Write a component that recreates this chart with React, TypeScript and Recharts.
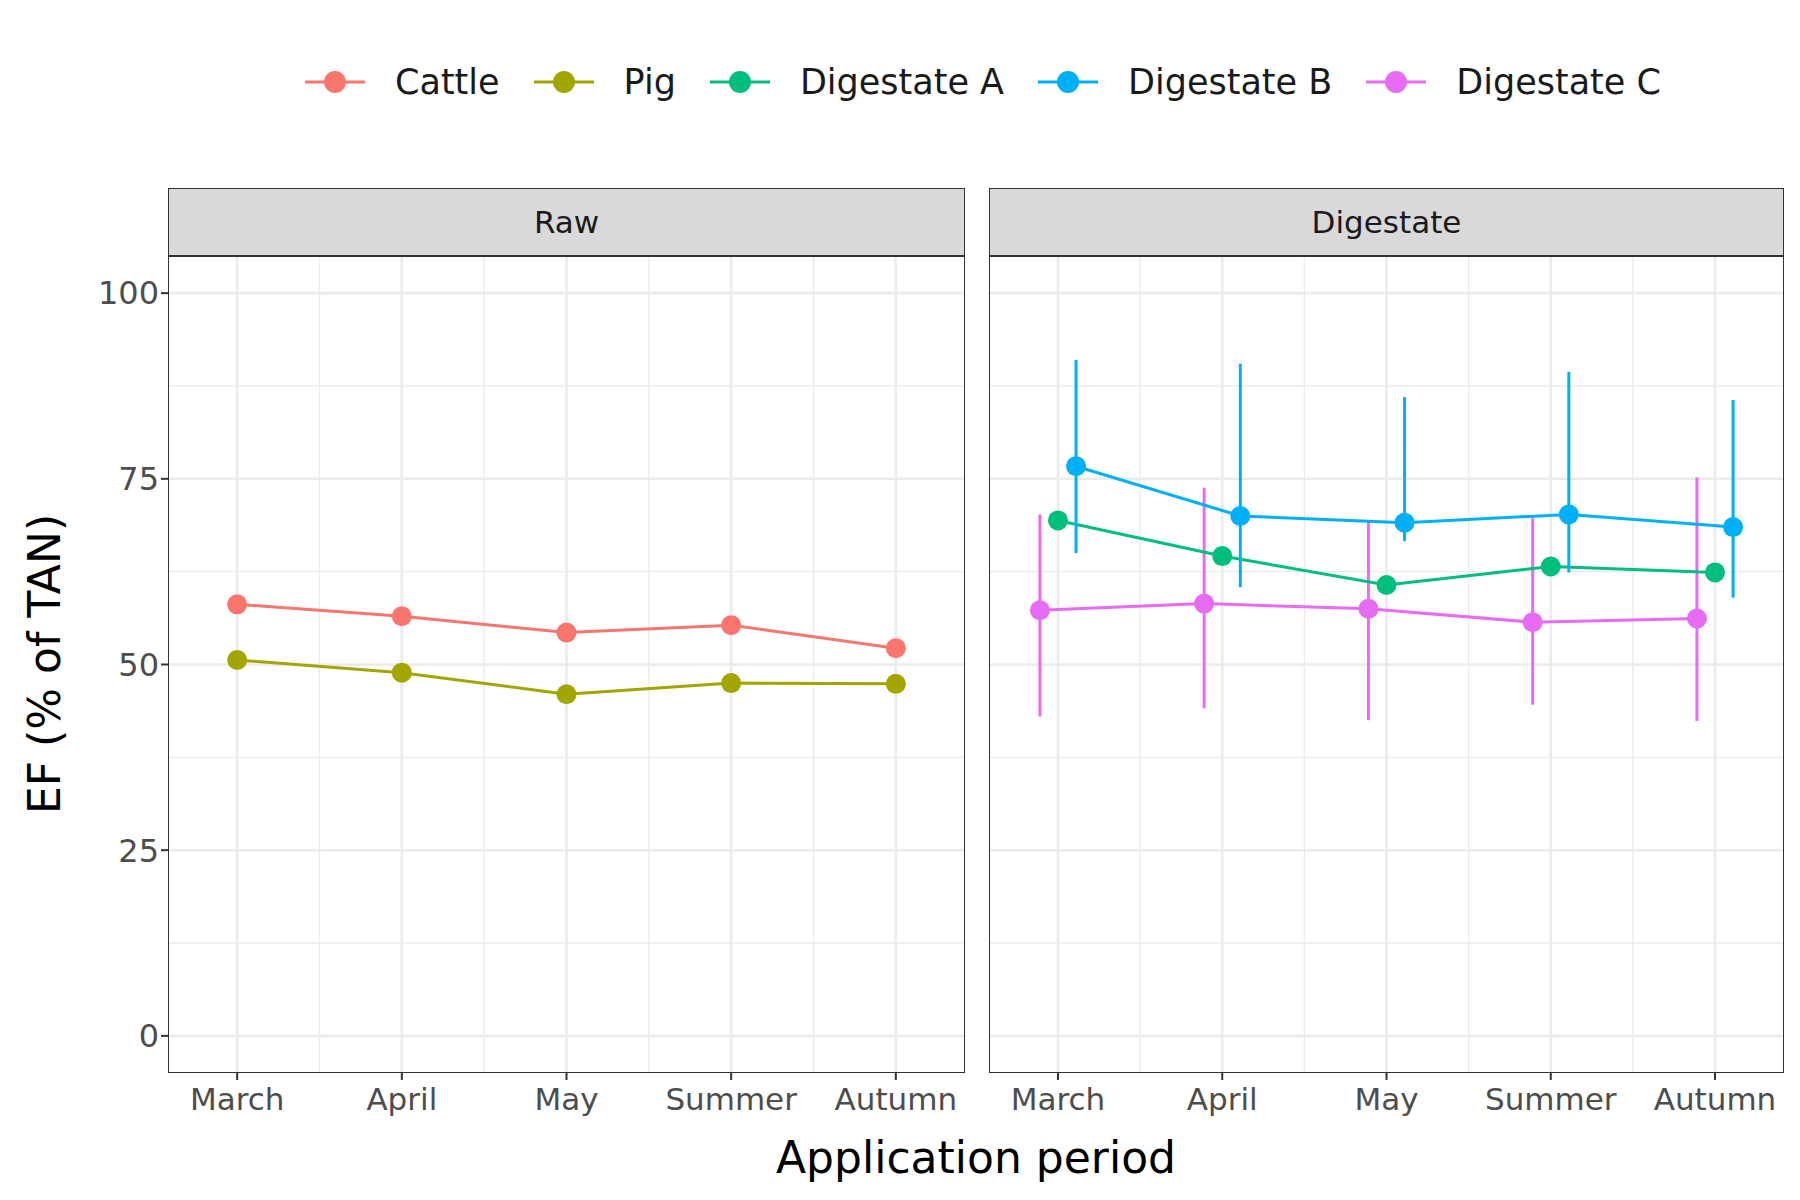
import React from "react";
import { LineChart, Line, XAxis, YAxis, CartesianGrid, ErrorBar } from "recharts";

const periods = ["March", "April", "May", "Summer", "Autumn"];
const cattle = [58.1, 56.5, 54.3, 55.3, 52.2];
const pig = [50.6, 48.9, 46.0, 47.5, 47.4];
const digA = [69.4, 64.6, 60.7, 63.2, 62.4];
const digB = [76.7, 70.0, 69.1, 70.2, 68.5];
const digBLow = [65.0, 60.4, 66.6, 62.4, 59.0];
const digBHigh = [91.0, 90.5, 86.0, 89.4, 85.6];
const digC = [57.3, 58.2, 57.5, 55.7, 56.2];
const digCLow = [43.0, 44.1, 42.5, 44.6, 42.4];
const digCHigh = [70.2, 73.8, 69.3, 69.7, 75.2];
const yTicks = [0, 25, 50, 75, 100];

const COL = { cattle: "#F8766D", pig: "#A3A500", a: "#00BF7D", b: "#00B0F6", c: "#E76BF3" };
const FONT = "'DejaVu Sans', sans-serif";

const mk = (vals: number[], shift: number, low?: number[], high?: number[]) =>
  vals.map((v, i) => ({
    x: i + 1 + shift,
    y: v,
    err: low && high ? [v - low[i], high[i] - v] : undefined,
  }));

const TOP = 256, BOTTOM = 1073, H = 1200, XH = 70;

function Grid() {
  return (
    <>
      <CartesianGrid stroke="#ebebeb" strokeWidth={1.3} horizontalValues={[12.5, 37.5, 62.5, 87.5]} verticalValues={[1.5, 2.5, 3.5, 4.5]} />
      <CartesianGrid stroke="#ebebeb" strokeWidth={2.6} horizontalValues={yTicks} verticalValues={[1, 2, 3, 4, 5]} />
    </>
  );
}

const xAxisProps: any = {
  type: "number",
  dataKey: "x",
  domain: [0.58, 5.42],
  ticks: [1, 2, 3, 4, 5],
  tickFormatter: (v: number) => periods[v - 1],
  axisLine: false,
  tickLine: { stroke: "#333", strokeWidth: 2 },
  tickSize: 7,
  height: XH,
  tick: { fill: "#4d4d4d", fontSize: 31, fontFamily: FONT, dy: 6 },
  allowDataOverflow: true,
  interval: 0,
};

function series(data: any[], color: string, key: string, withErr: boolean) {
  return (
    <Line key={key} data={data} dataKey="y" stroke={color} strokeWidth={3} isAnimationActive={false}
      dot={{ r: 10, fill: color, stroke: color, strokeWidth: 0 }}>
      {withErr && <ErrorBar dataKey="err" direction="y" width={0} stroke={color} strokeWidth={3} />}
    </Line>
  );
}

function Strip({ left, width, label }: any) {
  return (
    <>
      <div style={{ position: "absolute", left, top: 188, width: width - 2, height: 66, background: "#d9d9d9", border: "1.5px solid #333",
        display: "flex", alignItems: "center", justifyContent: "center", fontSize: 31, color: "#1a1a1a", fontFamily: FONT }}>{label}</div>
      <div style={{ position: "absolute", left, top: TOP, width: width - 2, height: BOTTOM - TOP - 2, border: "1.5px solid #333", pointerEvents: "none" }} />
    </>
  );
}

const legendItems = [
  ["Cattle", COL.cattle], ["Pig", COL.pig], ["Digestate A", COL.a], ["Digestate B", COL.b], ["Digestate C", COL.c],
];

export default function App() {
  return (
    <div style={{ position: "absolute", left: 0, top: 0, width: 1800, height: 1200, background: "#fff", fontFamily: FONT }}>
      <div style={{ position: "absolute", top: 62, left: 305, display: "flex", gap: 34, alignItems: "center" }}>
        {legendItems.map(([n, c]) => (
          <div key={n} style={{ display: "flex", alignItems: "center", gap: 30, fontSize: 35, color: "#1a1a1a" }}>
            <svg width={60} height={40}>
              <line x1={0} y1={20} x2={60} y2={20} stroke={c} strokeWidth={3} />
              <circle cx={30} cy={20} r={11} fill={c} />
            </svg>
            <span>{n}</span>
          </div>
        ))}
      </div>

      <div style={{ position: "absolute", left: 0, top: 0 }}>
        <LineChart width={965} height={H} margin={{ top: TOP, right: 0, bottom: H - BOTTOM - XH, left: 0 }}>
          {Grid()}
          <XAxis {...xAxisProps} />
          <YAxis type="number" domain={[-5, 105]} ticks={yTicks} width={168} axisLine={false}
            tickLine={{ stroke: "#333", strokeWidth: 2 }} tickSize={7}
            tick={{ fill: "#4d4d4d", fontSize: 32, fontFamily: FONT }} />
          {series(mk(cattle, 0), COL.cattle, "cattle", false)}
          {series(mk(pig, 0), COL.pig, "pig", false)}
        </LineChart>
      </div>
      <div style={{ position: "absolute", left: 989, top: 0 }}>
        <LineChart width={795} height={H} margin={{ top: TOP, right: 0, bottom: H - BOTTOM - XH, left: 0 }}>
          {Grid()}
          <XAxis {...xAxisProps} />
          <YAxis type="number" domain={[-5, 105]} ticks={yTicks} hide />
          {series(mk(digC, -0.11, digCLow, digCHigh), COL.c, "c", true)}
          {series(mk(digA, 0), COL.a, "a", false)}
          {series(mk(digB, 0.11, digBLow, digBHigh), COL.b, "b", true)}
        </LineChart>
      </div>

      <Strip left={168} width={797} label="Raw" />
      <Strip left={989} width={795} label="Digestate" />

      <div style={{ position: "absolute", left: 976, top: 1157, transform: "translate(-50%, -50%)", whiteSpace: "nowrap", fontSize: 44, color: "#000" }}>
        Application period
      </div>
      <div style={{ position: "absolute", left: 44, top: 664, transform: "translate(-50%, -50%) rotate(-90deg)", whiteSpace: "nowrap", fontSize: 44, color: "#000" }}>
        EF (% of TAN)
      </div>
    </div>
  );
}
